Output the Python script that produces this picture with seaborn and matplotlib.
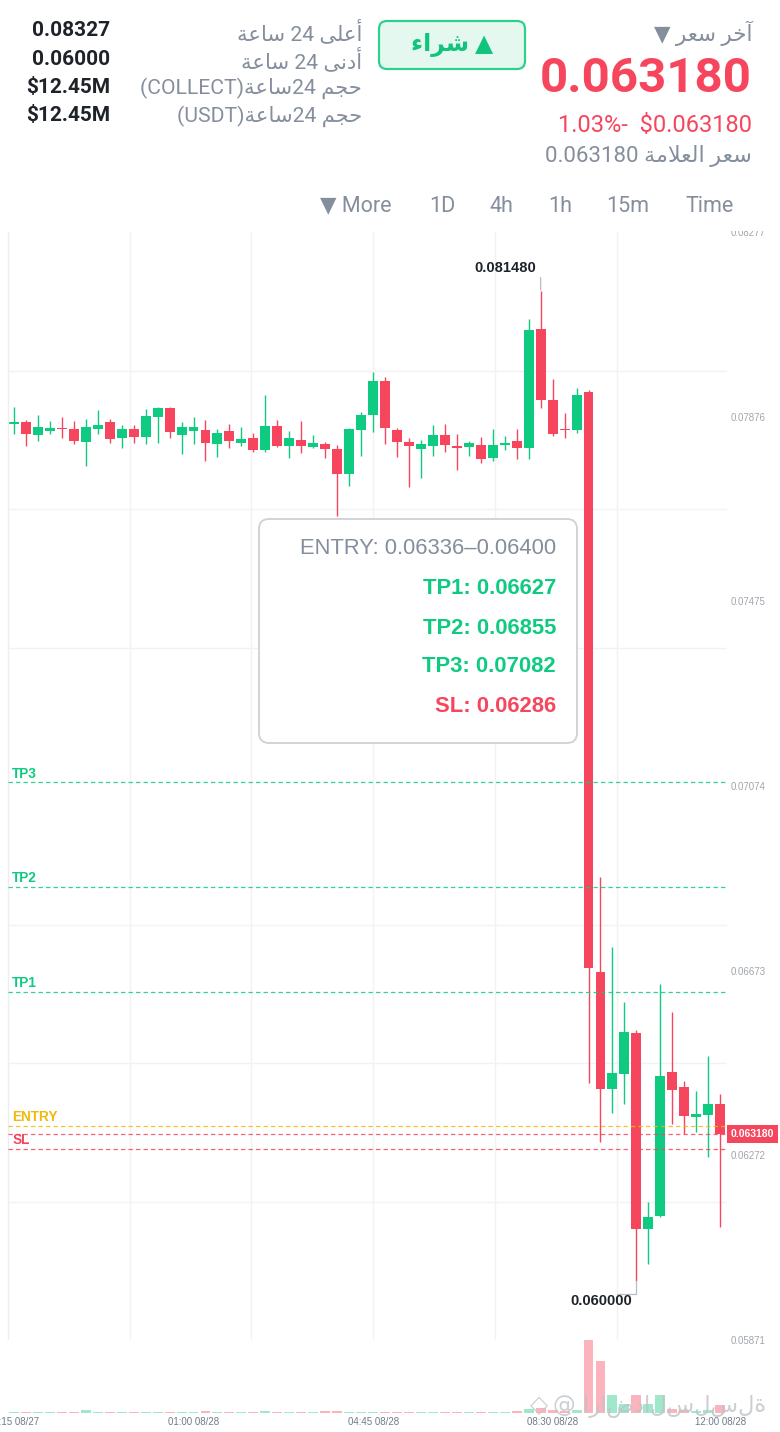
import numpy as np
import pandas as pd
import matplotlib
matplotlib.use("Agg")
import matplotlib.pyplot as plt
from matplotlib.patches import FancyBboxPatch, Rectangle
import seaborn as sns

# 15m candles, 21:15 08/27 -> 12:00 08/28
opens = [0.07860, 0.07864, 0.07836, 0.07845, 0.07851, 0.07849, 0.07821, 0.07849, 0.07864, 0.07830,
         0.07849, 0.07832, 0.07875, 0.07895, 0.07836, 0.07845, 0.07847, 0.07817, 0.07845, 0.07819,
         0.07830, 0.07804, 0.07856, 0.07812, 0.07825, 0.07810, 0.07817, 0.07806, 0.07752, 0.07847,
         0.07880, 0.07953, 0.07847, 0.07821, 0.07806, 0.07812, 0.07836, 0.07811, 0.07810, 0.07815,
         0.07786, 0.07815, 0.07823, 0.07808, 0.08066, 0.07912, 0.07849, 0.07847, 0.07930, 0.06670,
         0.06416, 0.06449, 0.06538, 0.06112, 0.06140, 0.06453, 0.06420, 0.06355, 0.06360, 0.06384]
highs = [0.07897, 0.07869, 0.07880, 0.07867, 0.07875, 0.07867, 0.07871, 0.07891, 0.07871, 0.07858,
         0.07858, 0.07893, 0.07897, 0.07897, 0.07864, 0.07875, 0.07869, 0.07849, 0.07860, 0.07854,
         0.07841, 0.07923, 0.07869, 0.07845, 0.07867, 0.07836, 0.07821, 0.07815, 0.07851, 0.07886,
         0.07973, 0.07962, 0.07851, 0.07830, 0.07825, 0.07858, 0.07860, 0.07838, 0.07823, 0.07832,
         0.07849, 0.07834, 0.07849, 0.08088, 0.08148, 0.07958, 0.07884, 0.07938, 0.07934, 0.06876,
         0.06724, 0.06605, 0.06544, 0.06171, 0.06644, 0.06583, 0.06433, 0.06412, 0.06488, 0.06405]
lows = [0.07838, 0.07812, 0.07823, 0.07838, 0.07830, 0.07817, 0.07769, 0.07838, 0.07819, 0.07808,
        0.07819, 0.07817, 0.07819, 0.07830, 0.07795, 0.07817, 0.07780, 0.07788, 0.07808, 0.07812,
        0.07799, 0.07799, 0.07810, 0.07786, 0.07797, 0.07808, 0.07786, 0.07660, 0.07725, 0.07791,
        0.07843, 0.07817, 0.07788, 0.07723, 0.07743, 0.07791, 0.07799, 0.07760, 0.07791, 0.07775,
        0.07780, 0.07804, 0.07784, 0.07784, 0.07895, 0.07834, 0.07830, 0.07841, 0.06429, 0.06301,
        0.06364, 0.06384, 0.06000, 0.06036, 0.06138, 0.06340, 0.06318, 0.06323, 0.06268, 0.06116]
closes = [0.07864, 0.07838, 0.07854, 0.07851, 0.07849, 0.07823, 0.07854, 0.07858, 0.07828, 0.07849,
          0.07832, 0.07877, 0.07895, 0.07843, 0.07854, 0.07854, 0.07819, 0.07841, 0.07823, 0.07828,
          0.07804, 0.07856, 0.07812, 0.07830, 0.07812, 0.07819, 0.07806, 0.07752, 0.07849, 0.07880,
          0.07953, 0.07851, 0.07821, 0.07812, 0.07817, 0.07836, 0.07815, 0.07809, 0.07819, 0.07784,
          0.07815, 0.07817, 0.07808, 0.08064, 0.07912, 0.07838, 0.07847, 0.07923, 0.06679, 0.06416,
          0.06451, 0.06540, 0.06112, 0.06138, 0.06444, 0.06414, 0.06357, 0.06362, 0.06384, 0.06318]
# volume in K USDT
volumes = [60, 60, 60, 60, 60, 60, 120, 60, 40, 40,
           40, 60, 60, 40, 60, 60, 80, 60, 40, 60,
           40, 80, 40, 60, 60, 40, 80, 100, 60, 60,
           60, 60, 60, 60, 60, 40, 60, 40, 40, 60,
           60, 60, 80, 160, 200, 120, 80, 120, 2920, 2080,
           720, 360, 720, 360, 720, 160, 120, 80, 120, 320]

tick_idx = [0, 15, 30, 45, 59]
tick_labels = ["21:15 08/27", "01:00 08/28", "04:45 08/28", "08:30 08/28", "12:00 08/28"]
price_ticks = [0.08277, 0.07876, 0.07475, 0.07074, 0.06673, 0.06272, 0.05871]

last_price = 0.06318
entry_low, entry_high = 0.06336, 0.06400
tp1, tp2, tp3, sl = 0.06627, 0.06855, 0.07082, 0.06286

UP, DOWN = "#0ecb81", "#f6465d"
GREY = "#848e9c"

# arabic contextual forms (isolated, final, initial, medial)
FORMS = {
    "ء": ("\uFE80",),
    "آ": ("\uFE81", "\uFE82"), "أ": ("\uFE83", "\uFE84"), "ا": ("\uFE8D", "\uFE8E"),
    "ة": ("\uFE93", "\uFE94"), "د": ("\uFEA9", "\uFEAA"), "ر": ("\uFEAD", "\uFEAE"),
    "ى": ("\uFEEF", "\uFEF0"),
    "ج": ("\uFE9D", "\uFE9E", "\uFE9F", "\uFEA0"), "ح": ("\uFEA1", "\uFEA2", "\uFEA3", "\uFEA4"),
    "خ": ("\uFEA5", "\uFEA6", "\uFEA7", "\uFEA8"), "س": ("\uFEB1", "\uFEB2", "\uFEB3", "\uFEB4"),
    "ش": ("\uFEB5", "\uFEB6", "\uFEB7", "\uFEB8"), "ع": ("\uFEC9", "\uFECA", "\uFECB", "\uFECC"),
    "ل": ("\uFEDD", "\uFEDE", "\uFEDF", "\uFEE0"), "م": ("\uFEE1", "\uFEE2", "\uFEE3", "\uFEE4"),
    "ن": ("\uFEE5", "\uFEE6", "\uFEE7", "\uFEE8"),
}
LAM_ALEF = {"ا": ("\uFEFB", "\uFEFC"), "أ": ("\uFEF7", "\uFEF8"), "آ": ("\uFEF5", "\uFEF6")}


def ar(text):
    # shape + reverse so matplotlib draws it right-to-left
    out = []
    i = 0
    while i < len(text):
        ch = text[i]
        prev_join = i > 0 and len(FORMS.get(text[i - 1], ())) == 4
        if ch == "ل" and i + 1 < len(text) and text[i + 1] in LAM_ALEF:
            out.append(LAM_ALEF[text[i + 1]][int(prev_join)])
            i += 2
            continue
        f = FORMS.get(ch)
        if f is None:
            out.append(ch)
            i += 1
            continue
        next_join = len(f) == 4 and i + 1 < len(text) and len(FORMS.get(text[i + 1], ())) > 1
        if prev_join and next_join:
            out.append(f[3])
        elif next_join:
            out.append(f[2])
        elif prev_join and len(f) > 1:
            out.append(f[1])
        else:
            out.append(f[0])
        i += 1
    return "".join(reversed(out))


sns.set_theme(style="white")
plt.rcParams["font.family"] = ["Liberation Sans", "DejaVu Sans"]
HEAD = ["Roboto", "DejaVu Sans"]

W, H = 780, 1432
fig = plt.figure(figsize=(W / 100, H / 100), dpi=100)
fig.patch.set_facecolor("white")


def fx(x):
    return x / W


def fy(y):
    return 1 - y / H


def T(x, y, s, **kw):
    kw.setdefault("va", "center")
    kw.setdefault("family", HEAD)
    return fig.text(fx(x), fy(y), s, zorder=5, **kw)


ax = fig.add_axes([fx(8), fy(1340), fx(727) - fx(8), fy(232) - fy(1340)])
axv = fig.add_axes([fx(8), fy(1413), fx(727) - fx(8), fy(1340) - fy(1413)])

idx = np.arange(len(opens))
o, hi, lo, c = map(np.array, (opens, highs, lows, closes))
up = c >= o
colors = np.where(up, UP, DOWN)

# candles
ax.vlines(idx, lo, hi, colors=colors, lw=1.0, zorder=2)
body_lo = np.minimum(o, c)
body_h = np.maximum(np.abs(c - o), 0.00003)
ax.bar(idx, body_h, bottom=body_lo, width=0.83, color=colors, linewidth=0, zorder=2.5)

ax.set_xlim(-0.5, 59.57)
ax.set_ylim(price_ticks[-1], price_ticks[0])
ax.yaxis.tick_right()
ax.set_yticks(price_ticks)
ax.set_yticklabels([f"{v:.5f}" for v in price_ticks])
ax.set_yticks(np.linspace(price_ticks[-1], price_ticks[0], 9), minor=True)
ax.set_xticks([])
ax.set_xticks([9.7, 19.8, 30.0, 40.2, 50.4], minor=True)
ax.grid(False)
ax.grid(which="minor", color="#f1f2f4", lw=1)
ax.tick_params(which="both", length=0)
ax.tick_params(axis="y", labelsize=7, labelcolor="#a0a6ad", pad=2.5)
for side in ["top", "right", "bottom"]:
    ax.spines[side].set_visible(False)
ax.spines["left"].set_color("#eceef1")
ax.spines["left"].set_linewidth(1)

# signal levels
levels = [("TP3", tp3, UP), ("TP2", tp2, UP), ("TP1", tp1, UP),
          ("ENTRY", entry_low, "#f0b90b"), ("SL", sl, DOWN)]
for name, val, col in levels:
    ax.axhline(val, color=col, lw=0.9, ls=(0, (3.5, 2.5)), alpha=0.85, zorder=3)
    ax.annotate(name, xy=(0, val), xycoords=("axes fraction", "data"), xytext=(3, 6.3),
                textcoords="offset points", ha="left", va="center", fontsize=9.8,
                weight="bold", color=col)
ax.axhline(last_price, color=DOWN, lw=0.9, ls=(0, (3.5, 2.5)), alpha=0.85, zorder=3)
ax.annotate(f"{last_price:.6f}", xy=(1, last_price), xycoords=("axes fraction", "data"),
            xytext=(18.4, 0), textcoords="offset points", ha="center", va="center",
            fontsize=7.5, weight="bold", color="white", annotation_clip=False,
            bbox=dict(boxstyle="square,pad=0.38", fc=DOWN, ec="none"))

# high / low markers
k_hi = int(np.argmax(hi))
ax.annotate("", xy=(k_hi, hi[k_hi]), xytext=(0, 10), textcoords="offset points",
            arrowprops=dict(arrowstyle="-", color="#b7bdc6", lw=0.9, shrinkA=0, shrinkB=1))
ax.annotate(f"{hi[k_hi]:.6f}", xy=(k_hi, hi[k_hi]), xytext=(-3.6, 16.6), textcoords="offset points",
            ha="right", va="center", fontsize=10.6, weight="bold", color="#1e2329")
k_lo = int(np.argmin(lo))
ax.annotate("", xy=(k_lo, lo[k_lo]), xytext=(-13.7, -9.4), textcoords="offset points",
            arrowprops=dict(arrowstyle="-", color="#b7bdc6", lw=0.9, shrinkA=0, shrinkB=0,
                            connectionstyle="angle,angleA=0,angleB=90,rad=0"))
ax.annotate(f"{lo[k_lo]:.6f}", xy=(k_lo, lo[k_lo]), xytext=(-3, -15), textcoords="offset points",
            ha="right", va="center", fontsize=10.6, weight="bold", color="#1e2329")

# volume
vol_df = pd.DataFrame({"idx": idx, "vol": volumes, "dir": np.where(up, "up", "down")})
sns.barplot(data=vol_df, x="idx", y="vol", hue="dir", palette={"up": "#9fe8cc", "down": "#fbb4bd"},
            native_scale=True, dodge=False, width=0.83, saturation=1, errorbar=None,
            legend=False, linewidth=0, ax=axv)
axv.set_xlim(-0.5, 59.57)
axv.set_ylim(0, max(volumes))
axv.set_xticks(tick_idx)
axv.set_xticklabels(tick_labels)
axv.set_yticks([])
axv.set_xlabel("")
axv.set_ylabel("")
axv.grid(False)
for s in axv.spines.values():
    s.set_visible(False)
axv.tick_params(axis="x", length=0, labelsize=7, labelcolor="#707a8a", pad=3)

# watermark
T(539, 1405, "◇", ha="center", fontsize=17, color="#c4c8cd", alpha=0.85, family=["DejaVu Sans"])
T(553, 1407, "@ اراضدالسلسلة", ha="left", fontsize=16.3, color="#bfc3c8", alpha=0.8,
  family=["DejaVu Sans"])

# hide the half of the top price label that runs under the tab bar
fig.add_artist(Rectangle((fx(727), fy(231)), 1 - fx(727), 1 - fy(231), transform=fig.transFigure,
                         fc="white", ec="none", zorder=1))

# signal box
fig.add_artist(FancyBboxPatch((2.59, (H - 743) / 100), 3.18, 2.24,
                              boxstyle="round,pad=0,rounding_size=0.1",
                              transform=fig.dpi_scale_trans, fc="white", ec="#cdd1d6",
                              lw=1.3, zorder=4))
T(556, 548, f"ENTRY: {entry_low:.5f}–{entry_high:.5f}", ha="right", fontsize=15.8,
  color=GREY, family=["Liberation Sans"])
T(556, 589, f"TP1: {tp1:.5f}", ha="right", fontsize=15.8, weight="bold", color=UP,
  family=["Liberation Sans"])
T(556, 629, f"TP2: {tp2:.5f}", ha="right", fontsize=15.8, weight="bold", color=UP,
  family=["Liberation Sans"])
T(556, 667, f"TP3: {tp3:.5f}", ha="right", fontsize=15.8, weight="bold", color=UP,
  family=["Liberation Sans"])
T(556, 707, f"SL: {sl:.5f}", ha="right", fontsize=15.8, weight="bold", color=DOWN,
  family=["Liberation Sans"])

# header
stats = ["0.08327", "0.06000", "$12.45M", "$12.45M"]
stat_names = [ar("ساعة") + " 24 " + ar("أعلى"),
              ar("ساعة") + " 24 " + ar("أدنى"),
              "(COLLECT)" + ar("ساعة") + "24 " + ar("حجم"),
              "(USDT)" + ar("ساعة") + "24 " + ar("حجم")]
for k, (val, name) in enumerate(zip(stats, stat_names)):
    y = 31 + k * 28.2
    T(110, y, val, ha="right", fontsize=15, weight="bold", color="#1e2329")
    T(362, y + 1, name, ha="right", fontsize=15.2, color=GREY)

fig.add_artist(FancyBboxPatch((3.79, (H - 69) / 100), 1.46, 0.48,
                              boxstyle="round,pad=0,rounding_size=0.08",
                              transform=fig.dpi_scale_trans, fc="#e4f8ef", ec="#2fd08e",
                              lw=1.6, zorder=4))
T(452, 45, ar("شراء") + " ▲", ha="center", fontsize=17, weight="bold", color="#10c47c")

T(752, 33, "▼ " + ar("آخر سعر"), ha="right", fontsize=15.5, color=GREY)
T(752, 79, f"{last_price:.6f}", ha="right", fontsize=35.5, weight="bold", color=DOWN)
T(752, 126, f"1.03%-  ${last_price:.6f}", ha="right", fontsize=17, color=DOWN)
T(752, 156, f"{last_price:.6f} " + ar("سعر العلامة"), ha="right", fontsize=16, color=GREY)

tabs = [("▼ More", 356), ("1D", 442), ("4h", 501), ("1h", 560), ("15m", 628), ("Time", 710)]
for name, x in tabs:
    T(x, 206, name, ha="center", fontsize=15.5, color=GREY)

fig.savefig("out.png", dpi=100, facecolor="white")
